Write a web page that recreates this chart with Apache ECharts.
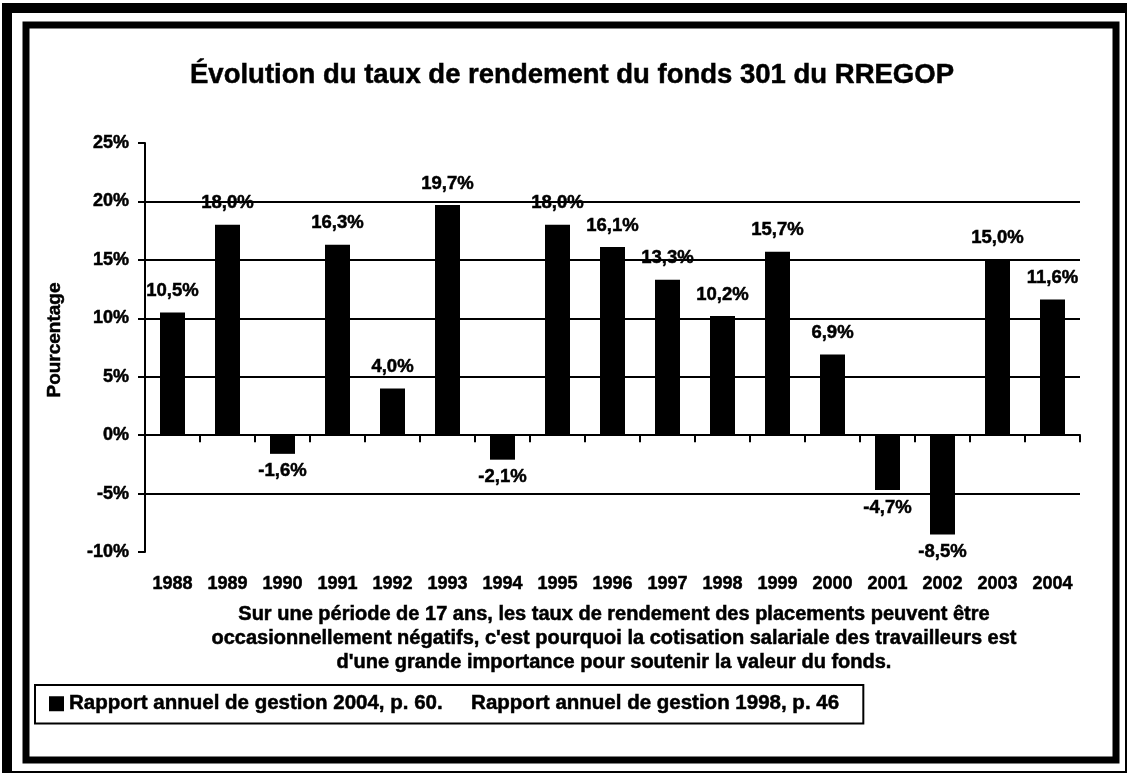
<!DOCTYPE html>
<html>
<head>
<meta charset="utf-8">
<script src="https://cdn.jsdelivr.net/npm/echarts@6/dist/echarts.min.js"></script>
<style>
  html, body { margin: 0; padding: 0; background: #fff; }
  #chart { width: 1130px; height: 776px; }
</style>
</head>
<body>
<div id="chart"></div>
<script>
// ---- data ----
const years = ['1988','1989','1990','1991','1992','1993','1994','1995','1996','1997','1998','1999','2000','2001','2002','2003','2004'];
const rendement = [10.5, 18.0, -1.6, 16.3, 4.0, 19.7, -2.1, 18.0, 16.1, 13.3, 10.2, 15.7, 6.9, -4.7, -8.5, 15.0, 11.6];
const yTicks = { min: -10, max: 25, interval: 5 };
const titleText = 'Évolution du taux de rendement du fonds 301 du RREGOP';
const yAxisTitle = 'Pourcentage';
const footnoteLines = [
  'Sur une période de 17 ans, les taux de rendement des placements peuvent être',
  "occasionnellement négatifs, c'est pourquoi la cotisation salariale des travailleurs est",
  "d'une grande importance pour soutenir la valeur du fonds."
];
const seriesName = 'Rapport annuel de gestion 2004, p. 60.     Rapport annuel de gestion 1998, p. 46';

// ---- chart ----
const FONT = '"Liberation Sans", Arial, sans-serif';
const INK = { textBorderColor: '#000', textBorderWidth: 0.5 };
const chart = echarts.init(document.getElementById('chart'), null, { renderer: 'canvas' });

const fmt = v => v.toFixed(1).replace('.', ',') + '%';
const barData = rendement.map(v => ({
  value: v,
  label: { position: v < 0 ? 'bottom' : 'top', distance: v < 0 ? 8 : 12 }
}));

chart.setOption({
  backgroundColor: '#fff',
  animation: false,
  grid: { left: 145, right: 50, top: 143, bottom: 224, containLabel: false },
  legend: {
    show: true,
    left: 35, top: 685,
    orient: 'horizontal',
    icon: 'rect',
    itemWidth: 15, itemHeight: 15,
    borderColor: '#000', borderWidth: 2,
    padding: [8, 24, 9, 14],
    textStyle: Object.assign({ fontFamily: FONT, fontWeight: 'bold', fontSize: 20.5, color: '#000' }, INK),
    data: [seriesName]
  },
  xAxis: [
    {
      type: 'category', data: years, position: 'top',
      axisLine: { show: true, onZero: true, lineStyle: { color: '#000', width: 2 } },
      axisTick: { show: true, inside: true, length: 7, interval: 0, lineStyle: { color: '#000', width: 2 } },
      axisLabel: { show: false },
      splitLine: { show: false }
    },
    {
      type: 'category', data: years, position: 'bottom',
      axisLine: { show: false, onZero: false },
      axisTick: { show: false },
      axisLabel: Object.assign({ show: true, interval: 0, margin: 23, color: '#000', fontFamily: FONT, fontWeight: 'bold', fontSize: 18 }, INK),
      splitLine: { show: false }
    }
  ],
  yAxis: {
    type: 'value', min: yTicks.min, max: yTicks.max, interval: yTicks.interval,
    axisLine: { show: true, lineStyle: { color: '#000', width: 2 } },
    axisTick: { show: true, length: 7, lineStyle: { color: '#000', width: 2 } },
    axisLabel: Object.assign({ margin: 16, color: '#000', fontFamily: FONT, fontWeight: 'bold', fontSize: 18, formatter: '{value}%' }, INK),
    splitLine: { show: true, showMinLine: false, showMaxLine: false, lineStyle: { color: '#000', width: 2 } }
  },
  series: [{
    name: seriesName,
    type: 'bar',
    xAxisIndex: 0,
    data: barData,
    barWidth: 25,
    itemStyle: { color: '#000' },
    label: Object.assign({
      show: true, color: '#000',
      fontFamily: FONT, fontWeight: 'bold', fontSize: 18.5,
      formatter: p => fmt(p.value)
    }, INK)
  }],
  graphic: [
    // outer frame
    { type: 'rect', shape: { x: 3, y: 4, width: 1123, height: 768 }, style: { fill: 'none', stroke: '#000', lineWidth: 2 } },
    { type: 'rect', shape: { x: 3, y: 5, width: 1124, height: 8 }, style: { fill: '#000' } },
    { type: 'rect', shape: { x: 3, y: 5, width: 9, height: 768 }, style: { fill: '#000' } },
    // inner frame
    { type: 'rect', shape: { x: 26, y: 25, width: 1090, height: 735 }, style: { fill: 'none', stroke: '#000', lineWidth: 7 } },
    // title
    { type: 'text', x: 572, y: 75, style: { text: titleText, fill: '#000', font: 'bold 27.5px ' + FONT, textAlign: 'center', textVerticalAlign: 'middle', stroke: '#000', lineWidth: 0.5 } },
    // y axis title
    { type: 'text', x: 55, y: 340, rotation: Math.PI / 2, style: { text: yAxisTitle, fill: '#000', font: 'bold 19px ' + FONT, textAlign: 'center', textVerticalAlign: 'middle', stroke: '#000', lineWidth: 0.5 } },
    // footnote
    { type: 'text', x: 614, y: 638, style: { text: footnoteLines.join('\n'), fill: '#000', font: 'bold 20px ' + FONT, lineHeight: 24, textAlign: 'center', textVerticalAlign: 'middle', stroke: '#000', lineWidth: 0.5 } }
  ]
});
</script>
</body>
</html>
